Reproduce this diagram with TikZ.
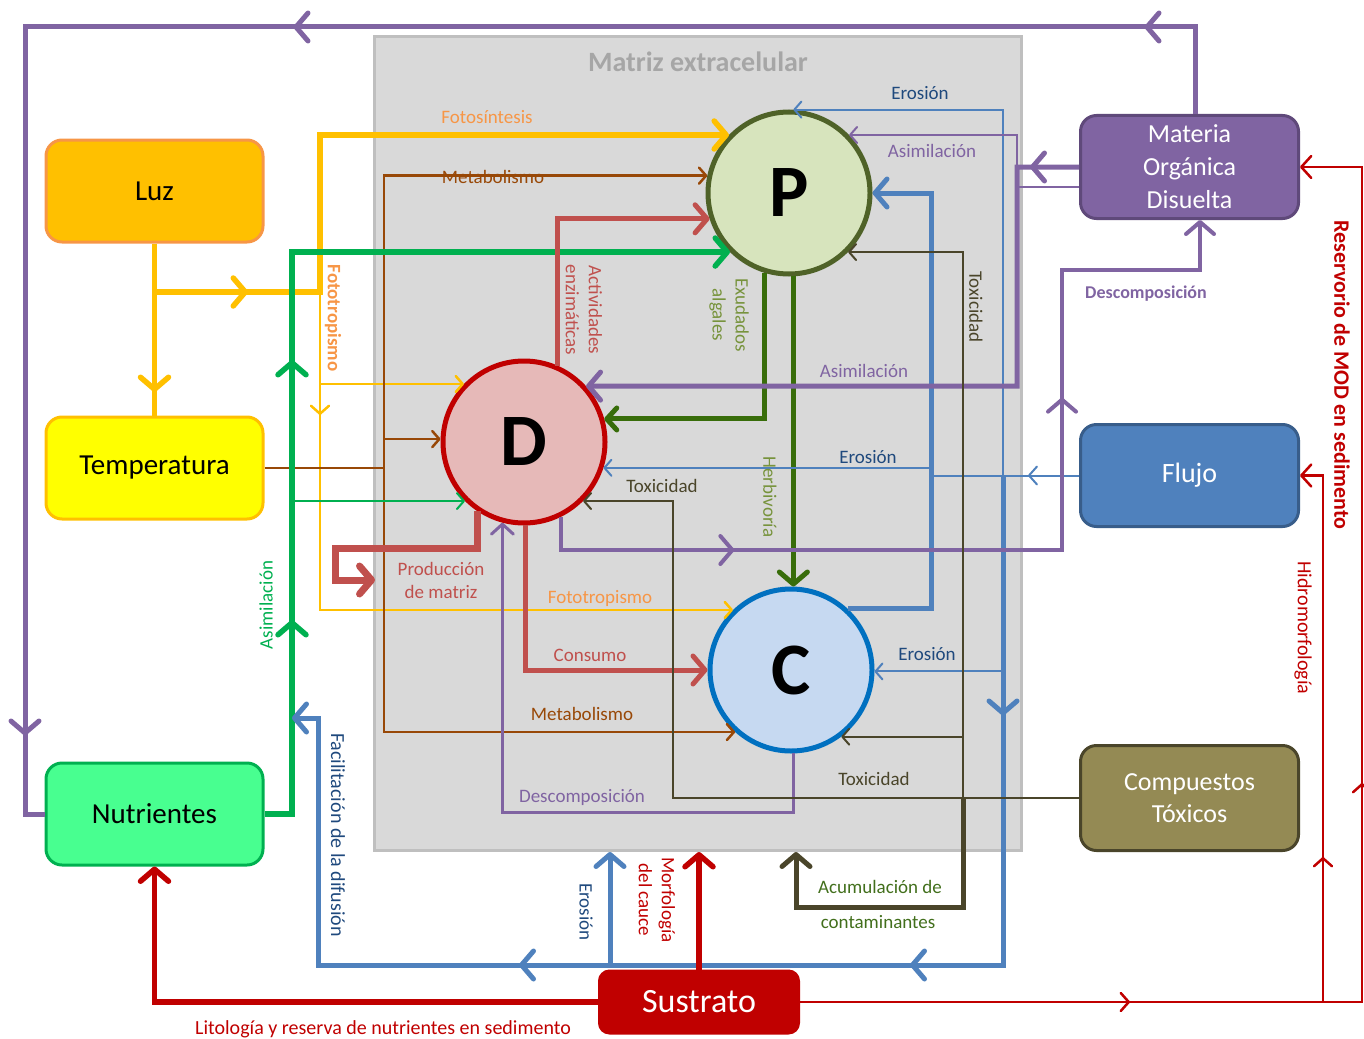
\documentclass[tikz,border=0pt]{standalone}
\usepackage{fontspec}
\setmainfont{Carlito}
\usetikzlibrary{arrows.meta,decorations.markings,shapes.geometric,calc}
\definecolor{cPurple}{HTML}{8064A2}
\definecolor{cPurpleD}{HTML}{5F497A}
\definecolor{cBlue}{HTML}{4F81BD}
\definecolor{cBlueD}{HTML}{385D8A}
\definecolor{cBlueT}{HTML}{1F497D}
\definecolor{cYellow}{HTML}{FFC000}
\definecolor{cOrange}{HTML}{F79646}
\definecolor{cBrown}{HTML}{984807}
\definecolor{cGreen}{HTML}{00B050}
\definecolor{cNut}{HTML}{48FF90}
\definecolor{cDkGreen}{HTML}{4F6228}
\definecolor{cAcc}{HTML}{426F1C}
\definecolor{cExud}{HTML}{386D0A}
\definecolor{cOlive}{HTML}{77933C}
\definecolor{cRedL}{HTML}{C0504D}
\definecolor{cRed}{HTML}{C00000}
\definecolor{cTox}{HTML}{4A452A}
\definecolor{cTan}{HTML}{948A54}
\definecolor{cMxFill}{HTML}{D9D9D9}
\definecolor{cMxBorder}{HTML}{BFBFBF}
\definecolor{cTitle}{HTML}{A6A6A6}
\definecolor{cPf}{HTML}{D7E4BD}
\definecolor{cDf}{HTML}{E6B9B8}
\definecolor{cCf}{HTML}{C6D9F1}
\definecolor{cCb}{HTML}{0070C0}
\definecolor{cTemp}{HTML}{FFFF00}
\begin{document}
\begin{tikzpicture}[x=1pt,y=-1pt,
  lbl/.style={font=\fontsize{19}{23}\selectfont, inner sep=0pt, align=center},
  bx/.style={draw, rounded corners=16pt, line width=3pt, minimum width=217pt, minimum height=102pt, align=center, inner sep=2pt, font=\fontsize{29}{33}\selectfont},
  circ/.style={circle, draw, line width=5pt, minimum size=162pt, inner sep=0pt, font=\fontsize{74}{74}\selectfont\bfseries},
  thk/.style={line width=5pt},
  thn/.style={line width=2pt},
  endB/.style={-{Straight Barb[length=12pt,width=28pt,round]}},
  endM/.style={-{Straight Barb[length=10pt,width=22pt,round]}},
  endS/.style={-{Straight Barb[length=7pt,width=16pt,round]}},
  midB/.style={postaction={decorate,decoration={markings,mark=at position #1 with {\arrow{Straight Barb[length=12pt,width=28pt,round]}}}}},
  midS/.style={postaction={decorate,decoration={markings,mark=at position #1 with {\arrow{Straight Barb[length=8pt,width=18pt,round]}}}}}
]
\useasboundingbox (0,0) rectangle (1364,1038);
% extracellular matrix
\node[draw=cMxBorder, fill=cMxFill, line width=3pt, minimum width=647pt, minimum height=814pt, inner sep=0pt] (mx) at (698,443.5) {};
\node[font=\fontsize{28}{30}\selectfont\bfseries, text=cTitle] (title) at (698,62) {Matriz extracelular};
% boxes
\node[bx, fill=cYellow, draw=cOrange] (luz) at (154.5,191) {Luz};
\node[bx, fill=cTemp, draw=cYellow] (temp) at (154.5,468) {Temperatura};
\node[bx, fill=cNut, draw=cGreen] (nut) at (154.5,814) {Nutrientes};
\node[bx, fill=cPurple, draw=cPurpleD, text=white, minimum width=218pt, minimum height=103pt, font=\fontsize{26}{33}\selectfont] (mod) at (1189.5,167) {Materia\\Orgánica\\Disuelta};
\node[bx, fill=cBlue, draw=cBlueD, text=white, minimum width=218pt, font=\fontsize{28}{32}\selectfont] (flu) at (1189.5,475.5) {Flujo};
\node[bx, fill=cTan, draw=cTox, text=white, minimum width=218pt, minimum height=105pt, font=\fontsize{26}{32}\selectfont] (tox) at (1189.5,798) {Compuestos\\Tóxicos};
\node[bx, fill=cRed, draw=cRed, text=white, minimum width=199pt, minimum height=62pt, rounded corners=10pt, font=\fontsize{34}{36}\selectfont] (sus) at (699,1002) {Sustrato};
% circles
\node[circ, fill=cPf, draw=cDkGreen] (P) at (789,193) {P};
\node[circ, fill=cDf, draw=cRed] (D) at (524,442) {D};
\node[circ, fill=cCf, draw=cCb] (C) at (791,670) {C};
% coordinates
\coordinate (ly) at (154.5,292);
\coordinate (fy) at (320,292);
\coordinate (bj) at (384,468);
\coordinate (gj) at (292,814);
\coordinate (pm) at (375,580);
\coordinate (bv) at (931,193);
\coordinate (ej) at (1003,475.5);
\coordinate (fd) at (292,718);
\coordinate (ev) at (610,965);
\coordinate (pa) at (1017,386);
\coordinate (tj) at (963,798);
\coordinate (acc) at (796,907);
\coordinate (rr) at (1362,167);
\coordinate (hr) at (1323,1002);
% purple outer loop MOD -> Nutrientes
\draw[thk, cPurple, midB=137.5pt, midB=988.5pt, midB=1965.5pt] ([xshift=5.5pt]mod.north) |- (25,27) |- (nut.west);
% Luz
\draw[line width=5.5pt, cYellow, midB=148.5pt] (luz.south) -- (temp.north);
\draw[line width=5.5pt, cYellow, endB, midB=93.5pt] (ly) -- (fy) |- (P.136);
\draw[line width=2.5pt, cYellow, endS, midS=123pt] (fy) |- (C.134.06);
\draw[line width=2.5pt, cYellow, endS] (fy |- D.136.95) -- (D.136.95);
% brown metabolism
\draw[line width=2.5pt, cBrown] (temp.east) -- (bj);
\draw[line width=2.5pt, cBrown, endS] (bj) |- (P.168.25);
\draw[line width=2.5pt, cBrown, endS] (bj) |- (C.228.98);
\draw[line width=2.5pt, cBrown, endS] (bj |- D.178.63) -- (D.178.63);
% green nutrients
\draw[line width=5.5pt, cGreen, endB, midB=221.5pt, midB=481.5pt] (nut.east) -- (gj) |- (P.225.94);
\draw[thn, cGreen, endS] (gj |- D.225.94) -- (D.225.94);
% red (D)
\draw[line width=5pt, cRedL, endB] (D.66.72) |- (P.198.87);
\draw[line width=7pt, cRedL, endB] (D.-124.26) |- (335,548) |- (pm);
\draw[line width=5pt, cRedL, endB] (D.-89.3) |- (C.west);
% dark green (P)
\draw[thk, cExud, endM] (P.-107.42) |- (D.16.7);
\draw[thk, cExud, endB] (P.-87.94) -- (P.-87.94 |- C.north);
% blue
\draw[thk, cBlue, endB] (C.47.94) -| (bv) -- (P.east);
\draw[thn, cBlue, endS, midS=51pt] (flu.west) -- (931,475.5) |- (D.-18.87);
\draw[thn, cBlue, endS] (ej) |- (P.87.94);
\draw[thn, cBlue, endS] (ej |- C.-1.37) -- (C.-1.37);
\draw[thk, cBlue, endB, midB=240pt, midB=582.5pt, midB=973.5pt] (ej) |- (318,965) |- (fd);
\draw[thk, cBlue, endB] (ev) -- (ev |- mx.south);
% purple (MOD)
\draw[thk, cPurple, endB, midB=49pt] (mod.west) -| (pa) -- (D.42.12);
\draw[thn, cPurple, endS] ([yshift=-20pt]mod.west) -| (P.44 -| pa) -- (P.44);
\draw[line width=4pt, cPurple, endB, midB=206.7pt, midB=686.7pt] (D.-64.46) |- (1062,550) -- (1062,270) -| ([xshift=10.5pt]mod.south);
\draw[line width=3pt, cPurple, endM] (C.-88.6) |- (D.-105.99 |- 0,812) -- (D.-105.99);
% toxic compounds
\draw[thn, cTox, endS] (tox.west) -- (673,798) |- (D.-45.94);
\draw[thn, cTox, endS] (tj) |- (P.-45.94);
\draw[thn, cTox, endS] (tj |- C.-53.36) -- (C.-53.36);
\draw[thk, cTox, endB] (tj) |- (acc) -- (acc |- mx.south);
% substrate
\draw[line width=5.5pt, cRed, endB] (sus.west) -| (nut.south);
\draw[line width=5.5pt, cRed, endB] (sus.north) -- (sus.north |- mx.south);
\draw[line width=2.5pt, cRed, endM, midS=330pt, midS=781pt] (sus.east) -| (rr) -- (mod.east);
\draw[line width=2.5pt, cRed, endM, midS=145pt] (hr) |- (flu.east);
% labels
\node[lbl, text=cOrange] (l1) at (487,117) {Fotosíntesis};
\node[lbl, text=cBrown] (l2) at (493,177) {Metabolismo};
\node[lbl, text=cRedL, rotate=-90] (l3) at (584,310) {Actividades\\enzimáticas};
\node[lbl, text=cOlive, rotate=-90] (l4) at (729,315) {Exudados\\algales};
\node[lbl, text=cTox, rotate=-90] (l5) at (976,307) {Toxicidad};
\node[lbl, text=cBlueT] (l6) at (920,93) {Erosión};
\node[lbl, text=cPurple] (l7) at (932,151) {Asimilación};
\node[lbl, text=cPurple] (l8) at (864,371) {Asimilación};
\node[lbl, text=cBlueT] (l9) at (868,457) {Erosión};
\node[lbl, text=cTox] (l10) at (662,486) {Toxicidad};
\node[lbl, text=cOlive, rotate=-90] (l11) at (770,497) {Herbivoría};
\node[lbl, text=cRedL] (l12) at (441,580) {Producción\\de matriz};
\node[lbl, text=cOrange] (l13) at (600,598) {Fototropismo};
\node[lbl, text=cRedL] (l14) at (590,655) {Consumo};
\node[lbl, text=cBlueT] (l15) at (927,654) {Erosión};
\node[lbl, text=cBrown] (l16) at (582,714) {Metabolismo};
\node[lbl, text=cTox] (l17) at (874,779) {Toxicidad};
\node[lbl, text=cPurple] (l18) at (582,797) {Descomposición};
\node[lbl, text=cOrange, rotate=-90, font=\fontsize{19}{23}\selectfont\bfseries] (l19) at (333,318) {Fototropismo};
\node[lbl, text=cGreen, rotate=90] (l20) at (266,605) {Asimilación};
\node[lbl, text=cBlueT, rotate=-90, font=\fontsize{20}{23}\selectfont] (l21) at (338,835) {Facilitación de la difusión};
\node[lbl, text=cBlueT, rotate=-90] (l22) at (586,912) {Erosión};
\node[lbl, text=cRed, rotate=-90] (l23) at (657,900) {Morfología\\del cauce};
\node[lbl, text=cAcc] (l24) at (880,887) {Acumulación de};
\node[lbl, text=cAcc] (l25) at (878,922) {contaminantes};
\node[lbl, text=cRed, font=\fontsize{20}{23}\selectfont] (l26) at (383,1029) {Litología y reserva de nutrientes en sedimento};
\node[lbl, text=cPurple, font=\fontsize{18}{22}\selectfont\bfseries] (l27) at (1146,294) {Descomposición};
\node[lbl, text=cRed, rotate=-90, font=\fontsize{22}{24}\selectfont\bfseries] (l28) at (1342,375) {Reservorio de MOD en sedimento};
\node[lbl, text=cRed, rotate=-90, font=\fontsize{20}{23}\selectfont] (l29) at (1303,628) {Hidromorfología};
\end{tikzpicture}
\end{document}
